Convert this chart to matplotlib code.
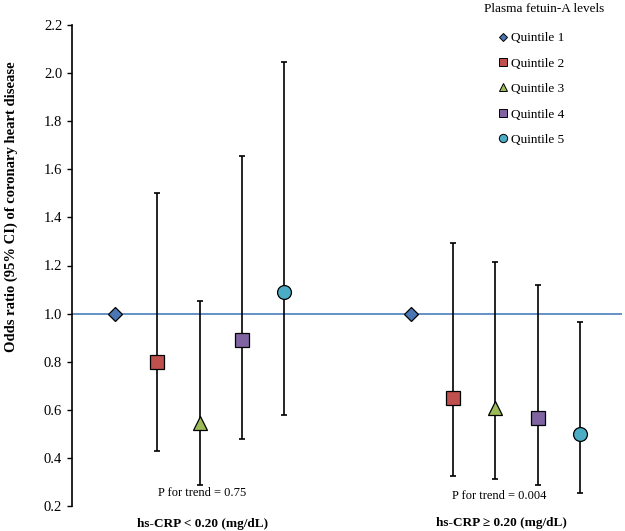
import numpy as np
import matplotlib
matplotlib.use("Agg")
import matplotlib.pyplot as plt
from matplotlib.lines import Line2D

# Odds ratios and 95% CI
quintiles = ["Quintile 1", "Quintile 2", "Quintile 3", "Quintile 4", "Quintile 5"]
groups = ["hs-CRP < 0.20 (mg/dL)", "hs-CRP \u2265 0.20 (mg/dL)"]
p_trend = ["P for trend = 0.75", "P for trend = 0.004"]

or_low = [1.00, 0.80, 0.545, 0.89, 1.09]
ci_lo_low = [np.nan, 0.43, 0.286, 0.48, 0.58]
ci_hi_low = [np.nan, 1.50, 1.052, 1.655, 2.048]

or_high = [1.00, 0.647, 0.609, 0.566, 0.498]
ci_lo_high = [np.nan, 0.325, 0.311, 0.286, 0.256]
ci_hi_high = [np.nan, 1.294, 1.215, 1.119, 0.965]

markers = ["D", "s", "^", "s", "o"]
colors = ["#4A77B4", "#C0504D", "#9BBB59", "#8064A2", "#4BACC6"]
sizes = [6.8, 10, 9.5, 10, 10]

plt.rcParams["font.family"] = ["Liberation Serif", "DejaVu Serif"]

fig = plt.figure(figsize=(6.25, 5.31), dpi=100)
ax = fig.add_axes([72 / 625, 1 - 506 / 531, 550 / 625, 481 / 531])

ax.axhline(1.0, color="#4A7EBB", lw=1.2, zorder=1)

group_pos = [np.arange(5), np.arange(5) + 7]
data = [(or_low, ci_lo_low, ci_hi_low), (or_high, ci_lo_high, ci_hi_high)]

for g, (vals, lo, hi) in enumerate(data):
    xs = group_pos[g]
    for i in range(5):
        if not np.isnan(lo[i]):
            err = [[vals[i] - lo[i]], [hi[i] - vals[i]]]
            ax.errorbar(xs[i], vals[i], yerr=err, fmt="none", ecolor="black",
                        elinewidth=1.2, capsize=2.5, capthick=1.2, zorder=2)
        ax.plot(xs[i], vals[i], marker=markers[i], ms=sizes[i], color=colors[i],
                mec="black", mew=0.9, ls="none", zorder=3)

# P for trend text and group labels
ax.text(2.05, 0.255, p_trend[0], ha="center", va="center", fontsize=9)
ax.text(9.1, 0.243, p_trend[1], ha="center", va="center", fontsize=9)
ax.text(2.08, 0.124, groups[0], ha="center", va="center", fontsize=9.5,
        fontweight="bold", clip_on=False)
ax.text(9.15, 0.128, groups[1], ha="center", va="center", fontsize=9.5,
        fontweight="bold", clip_on=False)

ax.set_xlim(-1.02, 12.0)
ax.set_ylim(0.2, 2.2)
ax.set_yticks(np.arange(0.2, 2.21, 0.2))
ax.set_yticklabels([f"{v:.1f}" for v in np.arange(0.2, 2.21, 0.2)], fontsize=10.5)
ax.set_xticks([])
ax.tick_params(axis="y", direction="out", length=3.6, width=1, pad=3.5)
for s in ["top", "right", "bottom"]:
    ax.spines[s].set_visible(False)
ax.spines["left"].set_linewidth(1.2)

ax.set_ylabel("Odds ratio (95% CI) of coronary heart disease", fontsize=10.5,
              fontweight="bold", va="center")
ax.yaxis.set_label_coords(-0.11, 0.622)

# Legend
handles = [Line2D([], [], marker=markers[i], color=colors[i], mec="black", mew=0.7,
                  ls="none", ms=sizes[i] * 0.6) for i in range(5)]
fig.text(544 / 625, 1 - 9 / 531, "Plasma fetuin-A levels", ha="center", va="center",
         fontsize=9.5)
ax.legend(handles, quintiles, loc="upper left", bbox_to_anchor=(498 / 625, 1 - 32 / 531),
          bbox_transform=fig.transFigure, frameon=False, fontsize=9.5, borderpad=0,
          handlelength=0.8, handletextpad=0.15, labelspacing=1.0, borderaxespad=0)

fig.savefig("out.png", dpi=100)
